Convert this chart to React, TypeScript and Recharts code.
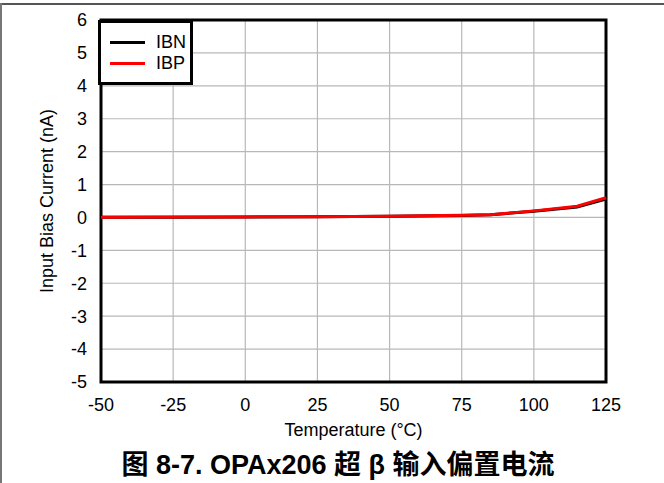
import React from 'react';
import { LineChart, Line, XAxis, YAxis, CartesianGrid, ReferenceArea, Legend } from 'recharts';

const temperatures = [-50, -25, 0, 25, 50, 75, 85, 100, 115, 125];
const ibn = [0.01, 0.01, 0.015, 0.02, 0.035, 0.06, 0.08, 0.19, 0.32, 0.56];
const ibp = [0.01, 0.012, 0.017, 0.025, 0.04, 0.065, 0.085, 0.2, 0.34, 0.6];
const xTicks = [-50, -25, 0, 25, 50, 75, 100, 125];
const yTicks = [-5, -4, -3, -2, -1, 0, 1, 2, 3, 4, 5, 6];
const seriesNames = ['IBN', 'IBP'];
const title = '图 8-7. OPAx206 超 β 输入偏置电流';

const data = temperatures.map((t, i) => ({ t, IBN: ibn[i], IBP: ibp[i] }));

const FONT = '"Liberation Sans", Arial, sans-serif';

const LegendBox = (props: any) => {
  const payload = props.payload || [];
  return (
    <div style={{ width: 89, height: 59, border: '3px solid #000', background: '#fff', fontFamily: FONT, fontSize: 18, boxSizing: 'content-box' }}>
      {payload.map((p: any, i: number) => (
        <div key={i} style={{ display: 'flex', alignItems: 'center', height: 21, marginTop: i === 0 ? 9 : 0 }}>
          <div style={{ width: 35, height: 2.5, background: p.color, marginLeft: 9, marginRight: 11 }} />
          <span>{p.value}</span>
        </div>
      ))}
    </div>
  );
};

export default function App() {
  return (
    <div style={{ position: 'absolute', left: 0, top: 0, width: 664, height: 483, background: '#fff', fontFamily: FONT }}>
      <div style={{ position: 'absolute', left: 0, top: 3, width: 664, height: 2, background: '#555' }} />
      <div style={{ position: 'absolute', left: 0, top: 3, width: 2, height: 480, background: '#777' }} />
      <LineChart
        width={664}
        height={483}
        data={data}
        margin={{ top: 20, right: 58, bottom: 71, left: 61 }}
        style={{ fontFamily: FONT }}
      >
        <CartesianGrid stroke="#b8b8b8" strokeWidth={1.2} vertical horizontal />
        <XAxis
          dataKey="t"
          type="number"
          domain={[-50, 125]}
          ticks={xTicks}
          interval={0}
          axisLine={false}
          tickLine={false}
          tickMargin={10}
          height={30}
          tick={{ fill: '#000', fontSize: 18 }}
          label={{ value: 'Temperature (°C)', position: 'insideBottom', offset: -24, fill: '#000', fontSize: 18 }}
        />
        <YAxis
          type="number"
          domain={[-5, 6]}
          ticks={yTicks}
          interval={0}
          axisLine={false}
          tickLine={false}
          tickMargin={8}
          width={40}
          tick={{ fill: '#000', fontSize: 18 }}
          label={{ value: 'Input Bias Current (nA)', angle: -90, position: 'center', dx: -34, fill: '#000', fontSize: 18 }}
        />
        <ReferenceArea x1={-50} x2={125} y1={-5} y2={6} fill="none" stroke="#000" strokeWidth={3} ifOverflow="visible" />
        <Line type="linear" dataKey="IBN" name={seriesNames[0]} stroke="#000" strokeWidth={3} dot={false} isAnimationActive={false} />
        <Line type="linear" dataKey="IBP" name={seriesNames[1]} stroke="#ff0000" strokeWidth={3} dot={false} isAnimationActive={false} />
        <Legend content={<LegendBox />} layout="horizontal" verticalAlign="middle" align="center" wrapperStyle={{ left: 98, top: 20, width: 95 }} />
      </LineChart>
      <div style={{ position: 'absolute', left: 0, top: 443, width: 676, textAlign: 'center', fontFamily: '"Liberation Sans", "Noto Sans CJK SC", sans-serif', fontWeight: 'bold', fontSize: 27, whiteSpace: 'pre' }}>
        {title}
      </div>
    </div>
  );
}
